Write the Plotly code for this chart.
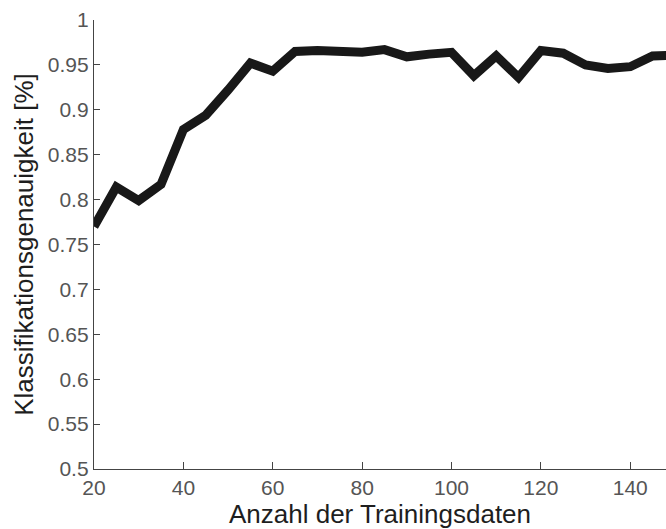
import plotly.graph_objects as go

train_counts = [20, 25, 30, 35, 40, 45, 50, 55, 60, 65, 70, 75, 80, 85, 90, 95,
                100, 105, 110, 115, 120, 125, 130, 135, 140, 145, 150]
accuracy = [0.770, 0.814, 0.799, 0.817, 0.878, 0.894, 0.922, 0.952, 0.943, 0.965,
            0.966, 0.966, 0.964, 0.967, 0.959, 0.962, 0.964, 0.938, 0.960, 0.936,
            0.966, 0.963, 0.950, 0.946, 0.948, 0.960, 0.961]

x_tick_vals = [20, 40, 60, 80, 100, 120, 140]
y_tick_vals = [0.5, 0.55, 0.6, 0.65, 0.7, 0.75, 0.8, 0.85, 0.9, 0.95, 1.0]
y_tick_text = ["0.5", "0.55", "0.6", "0.65", "0.7", "0.75", "0.8", "0.85", "0.9", "0.95", "1"]

fig = go.Figure()
fig.add_trace(go.Scatter(
    x=train_counts, y=accuracy, mode="lines",
    line=dict(color="#181818", width=9),
    showlegend=False,
))

tick_font = dict(family="Liberation Sans, Arial, sans-serif", size=21, color="#555555")
title_font = dict(family="Liberation Sans, Arial, sans-serif", size=26, color="#1e1e1e")

fig.update_layout(
    width=666, height=529,
    margin=dict(l=94, r=0, t=20, b=60),
    paper_bgcolor="white", plot_bgcolor="white",
    xaxis=dict(
        range=[20, 148], tickvals=x_tick_vals,
        ticks="inside", ticklen=7, tickwidth=1.2, tickcolor="#444",
        showline=True, linecolor="#444", linewidth=1.3,
        showgrid=False, zeroline=False,
        tickfont=tick_font,
        title=dict(text="Anzahl der Trainingsdaten", font=title_font, standoff=2),
    ),
    yaxis=dict(
        range=[0.5, 1.0], tickvals=y_tick_vals, ticktext=y_tick_text,
        ticks="inside", ticklen=6, tickwidth=1.2, tickcolor="#444",
        showline=True, linecolor="#444", linewidth=1.3,
        showgrid=False, zeroline=False,
        tickfont=tick_font,
        title=dict(text="Klassifikationsgenauigkeit [%]", font=title_font, standoff=6),
    ),
)

fig.write_html("out.html", config={"displayModeBar": False},
               post_script="document.body.style.margin='0';document.body.style.overflow='hidden';")
